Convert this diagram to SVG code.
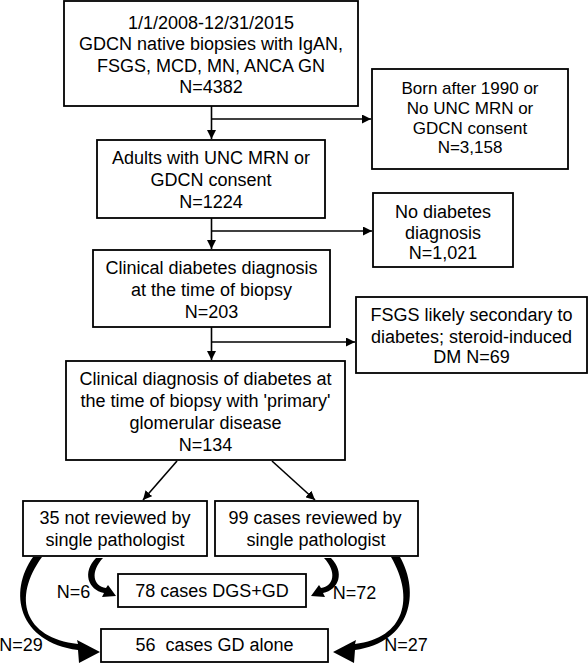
<svg xmlns="http://www.w3.org/2000/svg" width="588" height="665" viewBox="0 0 588 665">
<defs>
<style>
.b{fill:#fff;stroke:#000;stroke-width:1.8}
.t{font-family:"Liberation Sans",Arial,sans-serif;font-size:18px;fill:#000;text-anchor:middle}
.s{font-size:17px}
.c{fill:none;stroke:#000;stroke-width:1.6}
.f{fill:#000;stroke:none}
</style>
<marker id="ah" viewBox="0 0 10 10" refX="10" refY="5" markerWidth="9" markerHeight="9" markerUnits="userSpaceOnUse" orient="auto"><path d="M0,0 L10,5 L0,10 Z" fill="#000"/></marker>
</defs>
<rect width="588" height="665" fill="#fff"/>
<g id="connectors">
<path class="c" d="M211.5,106 V139" marker-end="url(#ah)"/>
<path class="c" d="M211.5,119 H371" marker-end="url(#ah)"/>
<path class="c" d="M211.5,218 V249" marker-end="url(#ah)"/>
<path class="c" d="M211.5,231 H372" marker-end="url(#ah)"/>
<path class="c" d="M211.5,327 V360" marker-end="url(#ah)"/>
<path class="c" d="M211.5,342 H355" marker-end="url(#ah)"/>
<path class="c" d="M177,461 L143,500" marker-end="url(#ah)"/>
<path class="c" d="M272,461 L315,500" marker-end="url(#ah)"/>
<path class="f" d="M33,557 C8,592 18,642 78,650 L79,663 L100,652 L77,640 L78,644 C24,638 12,598 42,557 Z"/>
<path class="f" d="M400,557 C420,592 412,642 355,650 L354,663 L333,652 L356,640 L355,644 C405,638 415,598 391,557 Z"/>
<path class="f" d="M96,558 C82,572 88,590 104,593 L102,597 L116,596 L108,585 L106,588 C93,586 90,572 103,558 Z"/>
<path class="f" d="M331,558 C345,572 339,590 323,593 L325,597 L311,596 L319,585 L321,588 C334,586 337,572 324,558 Z"/>
</g>
<g id="n1"><rect class="b" x="64" y="1" width="294" height="105"/>
<text class="t" x="211" y="28.5">1/1/2008-12/31/2015</text>
<text class="t" x="211" y="50">GDCN native biopsies with IgAN,</text>
<text class="t" x="211" y="71.5">FSGS, MCD, MN, ANCA GN</text>
<text class="t" x="211" y="93">N=4382</text></g>
<g id="n2"><rect class="b" x="372" y="69" width="196" height="100"/>
<text class="t s" x="470" y="94">Born after 1990 or</text>
<text class="t s" x="470" y="114">No UNC MRN or</text>
<text class="t s" x="470" y="134">GDCN consent</text>
<text class="t s" x="470" y="153">N=3,158</text></g>
<g id="n3"><rect class="b" x="97" y="140" width="228" height="78"/>
<text class="t" x="211" y="164">Adults with UNC MRN or</text>
<text class="t" x="211" y="186">GDCN consent</text>
<text class="t" x="211" y="208">N=1224</text></g>
<g id="n4"><rect class="b" x="373" y="193" width="140" height="74"/>
<text class="t" x="443" y="218">No diabetes</text>
<text class="t" x="443" y="239">diagnosis</text>
<text class="t" x="443" y="259">N=1,021</text></g>
<g id="n5"><rect class="b" x="93" y="250" width="237" height="77"/>
<text class="t" x="211.5" y="274">Clinical diabetes diagnosis</text>
<text class="t" x="211.5" y="296">at the time of biopsy</text>
<text class="t" x="211.5" y="318">N=203</text></g>
<g id="n6"><rect class="b" x="356" y="297" width="231" height="76"/>
<text class="t" x="471.5" y="321">FSGS likely secondary to</text>
<text class="t" x="471.5" y="343">diabetes; steroid-induced</text>
<text class="t" x="471.5" y="363">DM N=69</text></g>
<g id="n7"><rect class="b" x="66" y="361" width="279" height="99"/>
<text class="t" x="205.5" y="385">Clinical diagnosis of diabetes at</text>
<text class="t" x="205.5" y="407">the time of biopsy with 'primary'</text>
<text class="t" x="205.5" y="429">glomerular disease</text>
<text class="t" x="205.5" y="451">N=134</text></g>
<g id="n8"><rect class="b" x="23" y="501" width="184" height="55"/>
<text class="t" x="115" y="524">35 not reviewed by</text>
<text class="t" x="115" y="546">single pathologist</text></g>
<g id="n9"><rect class="b" x="215" y="501" width="203" height="55"/>
<text class="t" x="315" y="524">99 cases reviewed by</text>
<text class="t" x="316" y="546">single pathologist</text></g>
<g id="n10"><rect class="b" x="118" y="574" width="188" height="33"/>
<text class="t" x="212" y="597">78 cases DGS+GD</text></g>
<g id="n11"><rect class="b" x="101" y="629" width="227" height="33"/>
<text class="t" x="214.5" y="651" xml:space="preserve">56  cases GD alone</text></g>
<g id="labels">
<text class="t" x="73.5" y="598">N=6</text>
<text class="t" x="354.5" y="599">N=72</text>
<text class="t" x="21" y="651">N=29</text>
<text class="t" x="406" y="651">N=27</text>
</g>
</svg>
